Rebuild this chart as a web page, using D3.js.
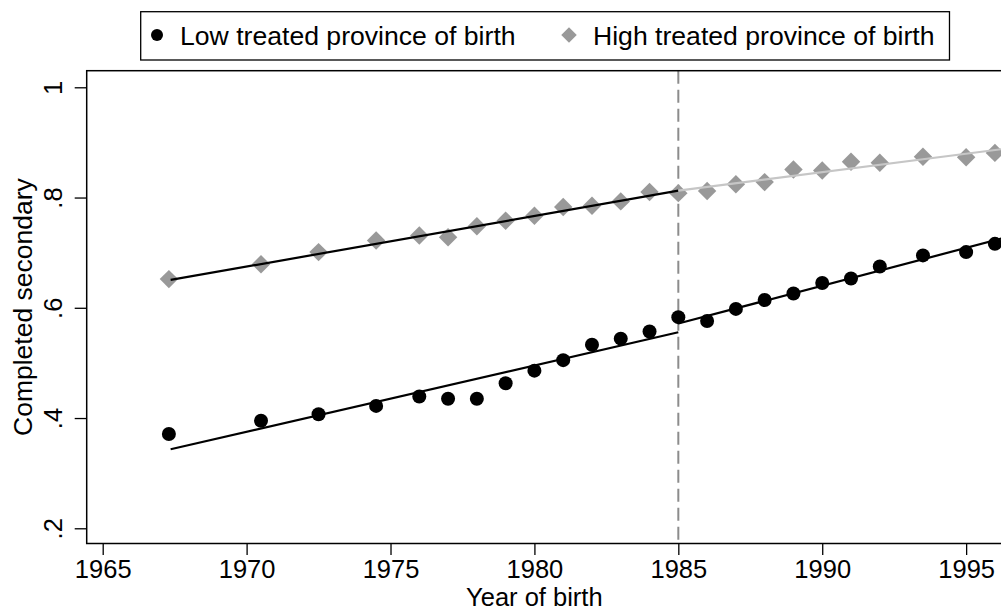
<!DOCTYPE html>
<html>
<head>
<meta charset="utf-8">
<script src="https://cdn.jsdelivr.net/npm/d3@7"></script>
<style>
  html, body { margin: 0; padding: 0; background: #fff; }
  svg { display: block; font-family: "Liberation Sans", Arial, sans-serif; }
</style>
</head>
<body>
<svg id="chart" width="1001" height="612"></svg>
<script>
// ---- data ----
const years = [1967.3, 1970.5, 1972.5, 1974.5, 1976, 1977, 1978, 1979, 1980, 1981, 1982, 1983, 1984, 1985, 1986, 1987, 1988, 1989, 1990, 1991, 1992, 1993.5, 1995, 1996];
const lowValues = [0.371, 0.395, 0.407, 0.422, 0.439, 0.435, 0.435, 0.463, 0.486, 0.505, 0.533, 0.544, 0.557, 0.583, 0.576, 0.598, 0.614, 0.626, 0.645, 0.653, 0.675, 0.695, 0.701, 0.716];
const highValues = [0.652, 0.679, 0.701, 0.722, 0.731, 0.728, 0.748, 0.758, 0.767, 0.783, 0.785, 0.793, 0.810, 0.808, 0.812, 0.824, 0.828, 0.851, 0.849, 0.865, 0.863, 0.874, 0.873, 0.881];
const lowFitPre = [[1967.36, 0.3433], [1985, 0.5556]];
const lowFitPost = [[1985, 0.5715], [1996.3, 0.7265]];
const highFitPre = [[1967.36, 0.6505], [1985, 0.8124]];
const highFitPost = [[1985, 0.8124], [1996.3, 0.8882]];
const cutoffYear = 1985;
const xTicks = [1965, 1970, 1975, 1980, 1985, 1990, 1995];
const yTicks = [0.2, 0.4, 0.6, 0.8, 1];
const yTickLabels = [".2", ".4", ".6", ".8", "1"];
const legendLabels = ["Low treated province of birth", "High treated province of birth"];
const xTitle = "Year of birth";
const yTitle = "Completed secondary";

// ---- layout ----
const svg = d3.select("#chart");
const plot = { left: 86.7, top: 70.7, right: 1009.3, bottom: 543.5 };
const x = d3.scaleLinear().domain([1964.444, 1996.5]).range([plot.left, plot.right]);
const y = d3.scaleLinear().domain([0.1724, 1.0301]).range([plot.bottom, plot.top]);

const colLow = "#000000";
const colHigh = "#999999";
const colHighFit = "#c6c6c6";
const colDash = "#8c8c8c";
const FONT = "'Liberation Sans', Arial, sans-serif";

// cutoff dashed line
svg.append("line")
  .attr("x1", x(cutoffYear)).attr("x2", x(cutoffYear))
  .attr("y1", plot.top).attr("y2", plot.bottom)
  .attr("stroke", colDash).attr("stroke-width", 2)
  .attr("stroke-dasharray", "13,6");

// markers
const diamond = d3.symbol().type(d3.symbolSquare).size(170);
svg.append("g").selectAll("path")
  .data(years.map((yr, i) => [yr, highValues[i]]))
  .join("path")
  .attr("d", diamond)
  .attr("transform", d => `translate(${x(d[0])},${y(d[1])}) rotate(45)`)
  .attr("fill", colHigh);

svg.append("g").selectAll("circle")
  .data(years.map((yr, i) => [yr, lowValues[i]]))
  .join("circle")
  .attr("cx", d => x(d[0])).attr("cy", d => y(d[1]))
  .attr("r", 7).attr("fill", colLow);

// fit lines
const line = d3.line().x(d => x(d[0])).y(d => y(d[1]));
[[highFitPre, "#000"], [highFitPost, colHighFit], [lowFitPre, "#000"], [lowFitPost, "#000"]]
  .forEach(([seg, c]) => {
    svg.append("path").attr("d", line(seg)).attr("fill", "none")
      .attr("stroke", c).attr("stroke-width", 2.2);
  });

// frame
svg.append("rect")
  .attr("x", plot.left).attr("y", plot.top)
  .attr("width", plot.right - plot.left).attr("height", plot.bottom - plot.top)
  .attr("fill", "none").attr("stroke", "#000").attr("stroke-width", 1.5);

// x axis
const xAxis = svg.append("g")
  .attr("transform", `translate(0,${plot.bottom})`)
  .call(d3.axisBottom(x).tickValues(xTicks).tickFormat(d3.format("d")).tickSize(11.5).tickPadding(4));
xAxis.select(".domain").remove();
xAxis.selectAll(".tick line").attr("stroke", "#000").attr("stroke-width", 1.3);
xAxis.selectAll(".tick text")
  .attr("y", 34.6).attr("dy", 0)
  .attr("font-size", 25.5).attr("fill", "#000")
  .attr("font-family", FONT);

// y axis
const yAxis = svg.append("g")
  .attr("transform", `translate(${plot.left},0)`)
  .call(d3.axisLeft(y).tickValues(yTicks).tickFormat((d, i) => yTickLabels[i]).tickSize(12));
yAxis.select(".domain").remove();
yAxis.selectAll(".tick line").attr("stroke", "#000").attr("stroke-width", 1.3);
yAxis.selectAll(".tick text")
  .attr("x", 0).attr("y", 0).attr("dy", 0)
  .attr("text-anchor", "middle")
  .attr("transform", `translate(${62 - plot.left},0) rotate(-90)`)
  .attr("font-size", 25.5).attr("fill", "#000")
  .attr("font-family", FONT);

// axis titles
svg.append("text")
  .attr("x", (102.7 + 966) / 2).attr("y", 606.3)
  .attr("text-anchor", "middle").attr("font-size", 25.5).attr("fill", "#000")
  .text(xTitle);
svg.append("text")
  .attr("transform", `translate(32,${(plot.top + plot.bottom) / 2}) rotate(-90)`)
  .attr("text-anchor", "middle").attr("font-size", 26.5).attr("fill", "#000")
  .text(yTitle);

// legend
const lg = svg.append("g");
const box = lg.append("rect")
  .attr("x", 140.7).attr("y", 11.7).attr("height", 48.3)
  .attr("fill", "#fff").attr("stroke", "#000").attr("stroke-width", 1.3);
lg.append("circle").attr("cx", 157).attr("cy", 35).attr("r", 6).attr("fill", colLow);
lg.append("text").attr("x", 180).attr("y", 45).attr("font-size", 26.6).attr("fill", "#000").text(legendLabels[0]);
lg.append("path").attr("d", d3.symbol().type(d3.symbolSquare).size(120))
  .attr("transform", "translate(569,35) rotate(45)").attr("fill", colHigh);
const t2 = lg.append("text").attr("x", 593).attr("y", 45).attr("font-size", 26.6).attr("fill", "#000").text(legendLabels[1]);
const t2end = 593 + t2.node().getComputedTextLength();
box.attr("width", t2end + 15 - 140.7);
</script>
</body>
</html>
